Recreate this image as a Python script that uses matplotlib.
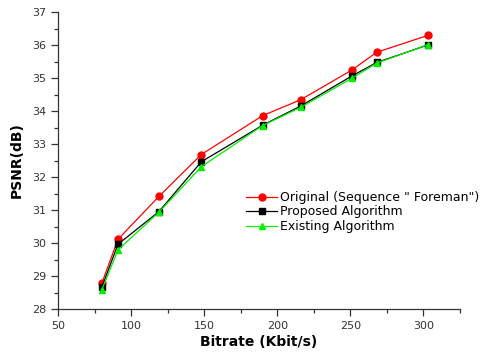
import matplotlib
matplotlib.use("Agg")
import matplotlib.pyplot as plt
from matplotlib.ticker import MultipleLocator

bitrate = [80, 91, 119, 148, 190, 216, 251, 268, 303]
original = [28.78, 30.11, 31.41, 32.68, 33.86, 34.34, 35.24, 35.78, 36.29]
proposed = [28.66, 29.96, 30.95, 32.46, 33.57, 34.15, 35.06, 35.47, 36.00]
existing = [28.58, 29.79, 30.93, 32.31, 33.56, 34.11, 34.99, 35.45, 36.01]
labels = ['Original (Sequence " Foreman")', 'Proposed Algorithm', 'Existing Algorithm']

fig = plt.figure(figsize=(4.8, 3.6), dpi=100)
ax = fig.add_axes([58/480, 1-309/360, (460-58)/480, (309-12)/360])

ax.plot(bitrate, original, color='red', marker='o', markersize=5, lw=0.9, label=labels[0])
ax.plot(bitrate, proposed, color='black', marker='s', markersize=4.5, lw=0.9, label=labels[1])
ax.plot(bitrate, existing, color='#00ee00', marker='^', markersize=5, lw=0.9, label=labels[2])

ax.set_xlim(50, 325)
ax.set_ylim(28, 37)
ax.xaxis.set_major_locator(MultipleLocator(50))
ax.xaxis.set_minor_locator(MultipleLocator(25))
ax.yaxis.set_major_locator(MultipleLocator(1))
ax.yaxis.set_minor_locator(MultipleLocator(0.5))
for s in ['top', 'right']:
    ax.spines[s].set_visible(False)
for s in ['left', 'bottom']:
    ax.spines[s].set_color('#333333')
    ax.spines[s].set_linewidth(0.9)
ax.tick_params(which='major', direction='out', length=5, width=0.9, color='#333333',
               labelsize=8, labelcolor='#333333')
ax.tick_params(which='minor', direction='out', length=3, width=0.9, color='#333333')

ax.set_xlabel('Bitrate (Kbit/s)', fontsize=10, fontweight='bold', labelpad=3)
ax.set_ylabel('PSNR(dB)', fontsize=10, fontweight='bold', labelpad=6)

leg = fig.legend(loc='upper left', bbox_to_anchor=(246/480, 1-191/360), frameon=False,
                 fontsize=9, handlelength=2.5, handletextpad=0.25, labelspacing=0.12,
                 borderaxespad=0, borderpad=0)

fig.savefig('out.png', dpi=100)
